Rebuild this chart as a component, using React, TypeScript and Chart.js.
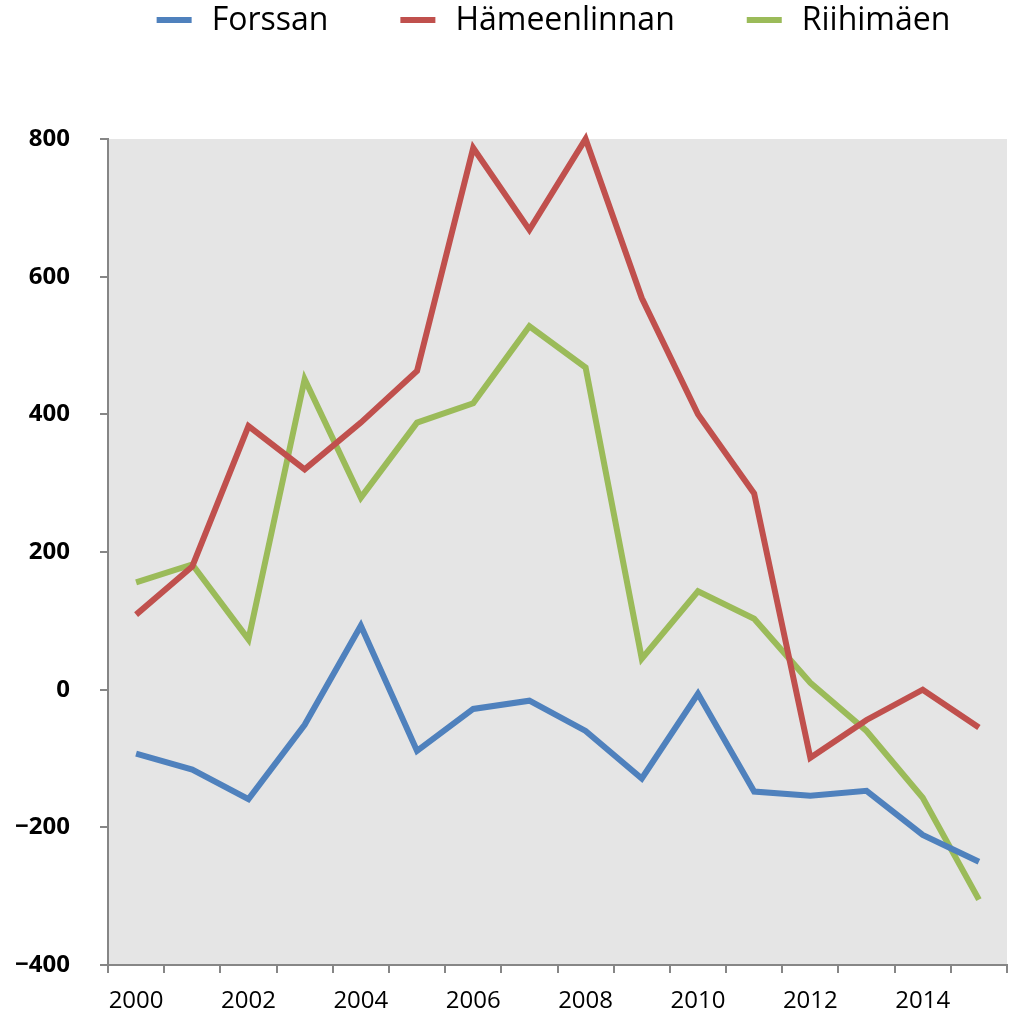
import React, { useEffect, useRef } from "react";
import { Chart, registerables } from "chart.js";

Chart.register(...registerables);

const years = ["2000","2001","2002","2003","2004","2005","2006","2007","2008","2009","2010","2011","2012","2013","2014","2015"];
const forssan = [-93, -116, -159, -51, 93, -89, -28, -16, -60, -129, -6, -148, -154, -147, -211, -250];
const hameenlinnan = [109, 179, 383, 320, 388, 463, 787, 668, 800, 569, 400, 285, -99, -44, 0, -55];
const riihimaen = [156, 182, 73, 451, 279, 388, 416, 528, 468, 45, 143, 103, 10, -60, -157, -305];
const seriesNames = ["Forssan", "Hämeenlinnan", "Riihimäen"];
const seriesColors = ["#4f81bd", "#c0504d", "#9bbb59"];

const FONT = "'Open Sans', 'DejaVu Sans', sans-serif";

const bgPlugin = {
  id: "plotBg",
  beforeDraw(chart: any) {
    const { ctx, chartArea } = chart;
    ctx.save();
    ctx.fillStyle = "#e5e5e5";
    ctx.fillRect(chartArea.left, chartArea.top, chartArea.right - chartArea.left, chartArea.bottom - chartArea.top);
    ctx.restore();
  },
};

const legendPlugin = {
  id: "customLegend",
  afterDraw(chart: any) {
    const { ctx, chartArea } = chart;
    const swatch = 35;
    const gap = 20;
    const itemGap = 72;
    ctx.save();
    ctx.font = `32px ${FONT}`;
    const items = chart.data.datasets.map((d: any) => ({
      label: d.label,
      color: d.borderColor,
      w: ctx.measureText(d.label).width,
    }));
    const total = items.reduce((s: number, it: any) => s + swatch + gap + it.w, 0) + itemGap * (items.length - 1);
    let x = (chartArea.left + chartArea.right) / 2 - 4 - total / 2;
    const y = 20;
    items.forEach((it: any) => {
      ctx.strokeStyle = it.color;
      ctx.lineWidth = 6;
      ctx.beginPath();
      ctx.moveTo(x, y);
      ctx.lineTo(x + swatch, y);
      ctx.stroke();
      x += swatch + gap;
      ctx.fillStyle = "#000";
      ctx.textBaseline = "middle";
      ctx.textAlign = "left";
      ctx.fillText(it.label, x, y + 1);
      x += it.w + itemGap;
    });
    ctx.restore();
  },
};

export default function App() {
  const ref = useRef<HTMLCanvasElement | null>(null);
  useEffect(() => {
    if (!ref.current) return;
    const values = [forssan, hameenlinnan, riihimaen];
    const chart = new Chart(ref.current, {
      type: "line",
      data: {
        labels: years,
        datasets: values.map((v, i) => ({
          label: seriesNames[i],
          data: v,
          borderColor: seriesColors[i],
          backgroundColor: seriesColors[i],
          borderWidth: 6,
          pointRadius: 0,
          tension: 0,
          fill: false,
          borderJoinStyle: "miter" as const,
          clip: false as any,
        })),
      },
      options: {
        responsive: false,
        animation: false,
        layout: { padding: { top: 139, right: 7, left: 0, bottom: 0 } },
        plugins: { legend: { display: false }, tooltip: { enabled: false } },
        scales: {
          x: {
            type: "category",
            offset: true,
            grid: { offset: true, drawOnChartArea: false, drawTicks: true, tickLength: 8, color: "#868686", lineWidth: 2 },
            border: { display: true, color: "#868686", width: 2 },
            ticks: {
              autoSkip: false,
              maxRotation: 0,
              padding: 14,
              color: "#000",
              font: { family: FONT, size: 24 },
              callback: function (this: any, val: any, idx: number) {
                const l = years[idx];
                return Number(l) % 2 === 0 ? l : "";
              },
            },
            afterFit(scale: any) {
              scale.height = 49;
            },
          },
          y: {
            min: -400,
            max: 800,
            grid: { drawOnChartArea: false, drawTicks: true, tickLength: 8, color: "#868686", lineWidth: 2 },
            border: { display: true, color: "#868686", width: 2 },
            ticks: {
              stepSize: 200,
              padding: 30,
              color: "#000",
              font: { family: FONT, size: 24, weight: "bold" },
              callback: (v: any) => String(v).replace("-", "\u2212"),
            },
            afterFit(scale: any) {
              scale.width = 108;
            },
          },
        },
      },
      plugins: [bgPlugin, legendPlugin],
    });
    return () => chart.destroy();
  }, []);
  return (
    <div style={{ position: "fixed", left: 0, top: 0, width: 1014, height: 1014, background: "#fff" }}>
      <canvas ref={ref} width={1014} height={1014} style={{ width: 1014, height: 1014, display: "block" }} />
    </div>
  );
}
